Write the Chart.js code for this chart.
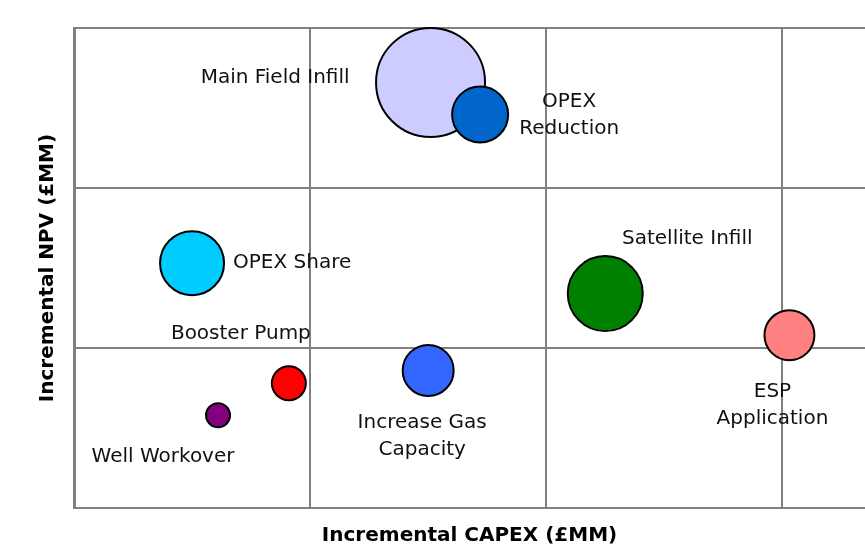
<!DOCTYPE html>
<html>
<head>
<meta charset="utf-8">
<script src="https://cdn.jsdelivr.net/npm/chart.js@4.4.0/dist/chart.umd.min.js"></script>
<style>
html, body { margin: 0; padding: 0; background: #fff; overflow: hidden; }
</style>
</head>
<body>
<canvas id="bubbleChart" width="865" height="556"></canvas>
<script>
// project data
const projects = ['Main Field Infill', 'OPEX Reduction', 'OPEX Share', 'Satellite Infill',
    'ESP Application', 'Increase Gas Capacity', 'Booster Pump', 'Well Workover'];
const capex = [1.51, 1.72, 0.50, 2.25, 3.03, 1.50, 0.91, 0.61];
const npv = [2.66, 2.46, 1.53, 1.34, 1.08, 0.86, 0.78, 0.58];
const bubbleSize = [54.5, 28, 32, 37.5, 25, 25.5, 17, 12];
const colours = ['#CCCCFF', '#0066CC', '#00CCFF', '#008000', '#FF8080', '#3366FF', '#FF0000', '#800080'];

// how each label sits next to its bubble
const labelLines = [['Main Field Infill'], ['OPEX', 'Reduction'], ['OPEX Share'], ['Satellite Infill'],
    ['ESP', 'Application'], ['Increase Gas', 'Capacity'], ['Booster Pump'], ['Well Workover']];
const labelPlace = [
    {align: 'right', dx: -81, dy: 1},
    {align: 'center', dx: 89, dy: -7},
    {align: 'left', dx: 41, dy: 5},
    {align: 'center', dx: 82, dy: -50},
    {align: 'center', dx: -17, dy: 62},
    {align: 'center', dx: -6, dy: 58},
    {align: 'center', dx: -48, dy: -44},
    {align: 'center', dx: -55, dy: 47}
];

const bubbleLabels = {
    id: 'bubbleLabels',
    afterDatasetsDraw(chart) {
        const ctx = chart.ctx;
        const meta = chart.getDatasetMeta(0);
        ctx.save();
        ctx.font = '20px "DejaVu Sans"';
        ctx.fillStyle = '#111';
        ctx.textBaseline = 'alphabetic';
        meta.data.forEach((pt, i) => {
            const p = labelPlace[i];
            ctx.textAlign = p.align;
            labelLines[i].forEach((line, j) => {
                ctx.fillText(line, pt.x + p.dx, pt.y + p.dy + j * 26.5);
            });
        });
        ctx.restore();
    }
};

const ctx = document.getElementById('bubbleChart').getContext('2d');
new Chart(ctx, {
    type: 'bubble',
    data: {
        datasets: [{
            label: 'Projects',
            data: projects.map((name, i) => ({x: capex[i], y: npv[i], r: bubbleSize[i]})),
            backgroundColor: colours,
            borderColor: '#000',
            borderWidth: 2,
            clip: false
        }]
    },
    options: {
        responsive: false,
        animation: false,
        layout: {autoPadding: false, padding: {top: 28, right: 0, left: 0, bottom: 0}},
        plugins: {
            legend: {display: false},
            tooltip: {enabled: false}
        },
        scales: {
            x: {
                min: 0,
                max: 3.35,
                afterBuildTicks: scale => { scale.ticks = scale.ticks.filter(t => Number.isInteger(t.value)); },
                afterFit: scale => { scale.height = 48; },
                ticks: {display: false, stepSize: 1},
                grid: {color: '#808080', lineWidth: 2, drawTicks: false},
                border: {color: '#808080', width: 2},
                title: {
                    display: true,
                    text: 'Incremental CAPEX (£MM)',
                    color: '#000',
                    font: {family: 'DejaVu Sans', size: 20, weight: 'bold'},
                    padding: {top: 0, bottom: 8}
                }
            },
            y: {
                min: 0,
                max: 3,
                afterFit: scale => { scale.width = 74; },
                ticks: {display: false, stepSize: 1},
                grid: {color: '#808080', lineWidth: 2, drawTicks: false},
                border: {color: '#808080', width: 3},
                title: {
                    display: true,
                    text: 'Incremental NPV (£MM)',
                    color: '#000',
                    font: {family: 'DejaVu Sans', size: 20, weight: 'bold'},
                    padding: {top: 36, bottom: 0}
                }
            }
        }
    },
    plugins: [bubbleLabels]
});
</script>
</body>
</html>
